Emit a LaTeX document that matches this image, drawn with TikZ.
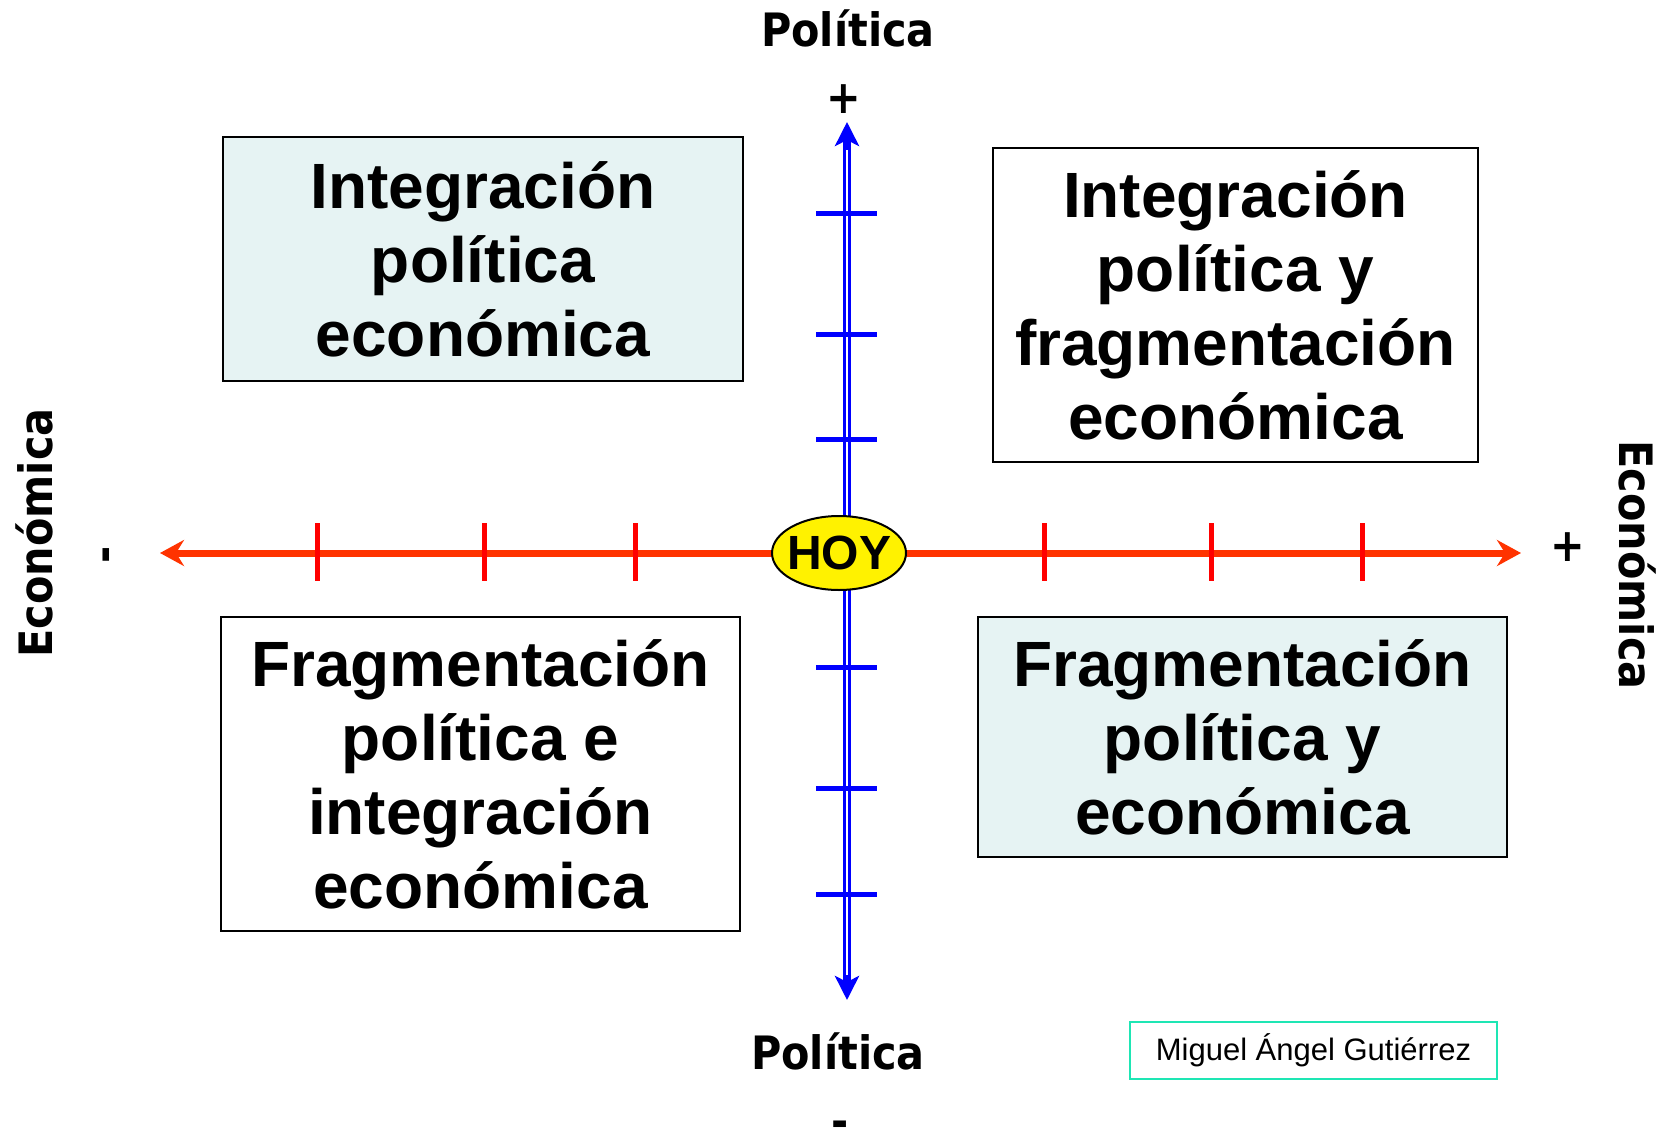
\documentclass[tikz,border=0pt]{standalone}
\usepackage{fontspec}
\setmainfont{Liberation Sans}
\newfontfamily\vfont{DejaVu Sans Condensed}
\usetikzlibrary{arrows.meta,shapes.geometric}
\definecolor{boxcyan}{RGB}{230,243,243}
\definecolor{axred}{RGB}{255,51,0}
\definecolor{tickred}{RGB}{255,0,0}
\definecolor{axblue}{RGB}{0,0,255}
\definecolor{authgreen}{RGB}{30,230,180}
\tikzset{
  quad/.style={draw=black, line width=1.5pt, align=center, inner sep=0pt,
    font=\fontsize{64}{74}\selectfont\bfseries},
  axlabel/.style={font=\vfont\bfseries\fontsize{46}{50}\selectfont, inner sep=0pt},
  rtick/.style={draw=tickred, line width=5pt},
  btick/.style={draw=axblue, line width=5pt},
  redaxis/.style={draw=axred, line width=7pt,
    {Stealth[length=24pt,width=26pt,inset=8pt]}-{Stealth[length=24pt,width=26pt,inset=8pt]}},
  blueaxis/.style={draw=axblue, line width=8pt,
    {Stealth[length=24pt,width=24pt,inset=6pt]}-{Stealth[length=24pt,width=24pt,inset=6pt]}},
}
\begin{document}
\begin{tikzpicture}[x=1pt,y=-1pt]
\useasboundingbox (0,0) rectangle (1668,1129);
\clip (0,0) rectangle (1668,1129);

% quadrant boxes
\node[quad, fill=boxcyan, minimum width=520pt, minimum height=244pt] (tl) at (483,259)
  {Integración\\política\\económica};
\node[quad, fill=white, minimum width=485pt, minimum height=314pt] (tr) at (1235.5,305)
  {Integración\\política y\\fragmentación\\económica};
\node[quad, fill=white, minimum width=519pt, minimum height=314pt] (bl) at (480.5,774)
  {Fragmentación\\política e\\integración\\económica};
\node[quad, fill=boxcyan, minimum width=529pt, minimum height=240pt] (br) at (1242.5,737)
  {Fragmentación\\política y\\económica};

% axis end points
\coordinate (L) at (160,553);
\coordinate (R) at (1521,553);
\coordinate (T) at (847,122);
\coordinate (B) at (847,1000);

% horizontal (economic) axis
\draw[redaxis] (L) -- (R);
\foreach \x in {317,484,635,1044,1211,1362}
  \draw[rtick] (\x,523) -- (\x,581);

% vertical (political) axis, double blue line
\draw[blueaxis] (B) -- (T);
\coordinate (Tw) at (847,150);
\coordinate (Bw) at (847,975);
\draw[white, line width=2pt] (Bw) -- (Tw);
\foreach \y in {213,334,439,667,788,894}
  \draw[btick] (816,\y) -- (877,\y);

% centre
\node[ellipse, draw=black, line width=2pt, fill=yellow, minimum width=134pt,
  minimum height=74pt, inner sep=0pt] (hoy) at (839,553) {};
\node[inner sep=0pt, font=\bfseries\fontsize{48}{50}\selectfont] (hoytext) at (hoy.center) {HOY};

% axis labels
\node[axlabel, anchor=base] (poltop) at (848,47) {Política};
\node[axlabel] (plustop) at (844,99) {+};
\node[axlabel, anchor=base] (polbot) at (838,1069) {Política};
\node[axlabel, anchor=base] (minusbot) at (840,1137) {-};
\node[axlabel, rotate=90] (ecoleft) at (34,533) {Económica};
\node[axlabel, rotate=90] (minusleft) at (111,555) {-};
\node[axlabel, rotate=-90] (ecoright) at (1638,565) {Económica};
\node[axlabel] (plusright) at (1568,547) {+};

% author
\node[draw=authgreen, line width=2pt, minimum width=367pt, minimum height=57pt,
  inner sep=0pt, font=\fontsize{31}{36}\selectfont] (auth) at (1313.5,1050.5)
  {Miguel Ángel Gutiérrez};
\end{tikzpicture}
\end{document}
